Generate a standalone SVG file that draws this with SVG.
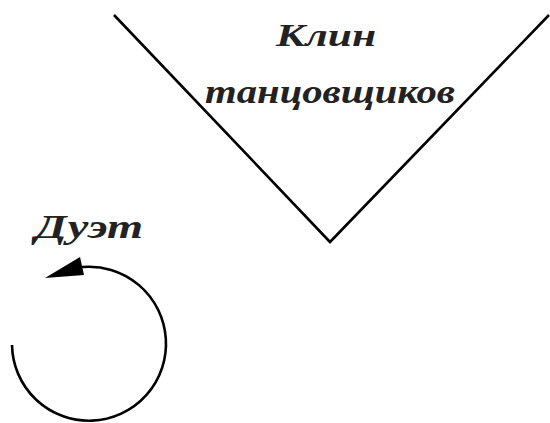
<svg xmlns="http://www.w3.org/2000/svg" width="550" height="423" viewBox="0 0 550 423">
<style>
.ln{fill:none;stroke:#000;stroke-width:2.6;stroke-linecap:butt}
.t{font-family:"Liberation Serif","DejaVu Serif",serif;font-style:italic;font-weight:bold;fill:#222;text-anchor:middle}
</style>
<rect width="550" height="423" fill="#fff"/>
<g id="wedge">
<path class="ln" d="M114,15 L330,242 L549,15"/>
<text class="t" x="326" y="46" font-size="31" textLength="100" lengthAdjust="spacingAndGlyphs">Клин</text>
<text class="t" x="330" y="103" font-size="33" textLength="250" lengthAdjust="spacingAndGlyphs">танцовщиков</text>
</g>
<g id="duet">
<text class="t" x="89" y="238" font-size="33" textLength="108" lengthAdjust="spacingAndGlyphs">Дуэт</text>
</g>
<g id="connectors">
<path class="ln" d="M12,345 A77,77 0 1 0 82,267" />
<path d="M45,278 L80,257 L84,275 Z" fill="#000"/>
</g>
</svg>
